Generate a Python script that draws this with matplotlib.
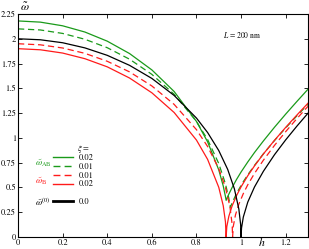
import matplotlib
matplotlib.use("Agg")
import matplotlib.pyplot as plt
from matplotlib.lines import Line2D

plt.rcParams['font.family'] = ['STIXGeneral', 'DejaVu Serif']
plt.rcParams['mathtext.fontset'] = 'stix'

# ---- data ----
h_black = [0, 0.1, 0.2, 0.3, 0.4, 0.5, 0.6, 0.7, 0.8, 0.85, 0.9, 0.94, 0.97, 0.99, 0.998, 1.0,
           1.002, 1.01, 1.03, 1.06, 1.1, 1.15, 1.2, 1.25, 1.3]
w_black = [2.000, 1.990, 1.960, 1.908, 1.833, 1.732, 1.600, 1.428, 1.200, 1.054, 0.872, 0.682,
           0.486, 0.282, 0.126, 0.0, 0.090, 0.201, 0.352, 0.504, 0.663, 0.831, 0.980, 1.118, 1.249]

h_b02 = [0, 0.1, 0.2, 0.3, 0.4, 0.5, 0.6, 0.7, 0.8, 0.85, 0.9, 0.92, 0.93, 0.933,
         0.936, 0.945, 0.96, 0.98, 1.0, 1.03, 1.06, 1.1, 1.15, 1.2, 1.25, 1.3]
w_b02 = [1.900, 1.889, 1.856, 1.799, 1.717, 1.604, 1.455, 1.256, 0.978, 0.783, 0.501, 0.316,
         0.152, 0.0, 0.104, 0.208, 0.315, 0.419, 0.506, 0.618, 0.717, 0.838, 0.976, 1.106,
         1.230, 1.350]

h_b01 = [0, 0.1, 0.2, 0.3, 0.4, 0.5, 0.6, 0.7, 0.8, 0.85, 0.9, 0.93, 0.95, 0.96, 0.962,
         0.965, 0.975, 0.99, 1.01, 1.03, 1.06, 1.1, 1.15, 1.2, 1.25, 1.3]
w_b01 = [1.950, 1.939, 1.907, 1.853, 1.773, 1.666, 1.524, 1.338, 1.083, 0.913, 0.689, 0.499,
         0.307, 0.126, 0.0, 0.107, 0.224, 0.331, 0.438, 0.527, 0.641, 0.775, 0.925, 1.063,
         1.194, 1.319]

h_ab02 = [0, 0.1, 0.2, 0.3, 0.4, 0.5, 0.6, 0.7, 0.8, 0.85, 0.9, 0.92, 0.93, 0.933,
          0.945, 0.96, 0.98, 1.0, 1.03, 1.06, 1.1, 1.15, 1.2, 1.25, 1.3]
w_ab02 = [2.180, 2.168, 2.131, 2.068, 1.976, 1.851, 1.686, 1.468, 1.166, 0.960, 0.677, 0.515,
          0.408, 0.370, 0.432, 0.500, 0.582, 0.656, 0.757, 0.852, 0.969, 1.108, 1.240, 1.367,
          1.491]

h_ab01 = [0, 0.1, 0.2, 0.3, 0.4, 0.5, 0.6, 0.7, 0.8, 0.85, 0.9, 0.93, 0.945, 0.952,
          0.96, 0.975, 0.99, 1.01, 1.03, 1.06, 1.1, 1.15, 1.2, 1.25, 1.3]
w_ab01 = [2.100, 2.089, 2.054, 1.995, 1.910, 1.794, 1.641, 1.440, 1.166, 0.983, 0.741, 0.536,
          0.392, 0.300, 0.345, 0.418, 0.481, 0.558, 0.627, 0.722, 0.839, 0.974, 1.101, 1.222,
          1.340]

xticks = [0, 0.2, 0.4, 0.6, 0.8, 1, 1.2]
xticklabels = ['0', '0.2', '0.4', '0.6', '0.8', '1', '1.2']
yticks = [0, 0.25, 0.5, 0.75, 1, 1.25, 1.5, 1.75, 2, 2.25]
yticklabels = ['0', '0.25', '0.5', '0.75', '1', '1.25', '1.5', '1.75', '2', '2.25']
xi_labels = ['0.02', '0.01', '0.01', '0.02', '0.0']

GREEN = '#1a9a1a'
RED = '#ff1a1a'
dash = (0, (5, 3))

fig = plt.figure(figsize=(3.09, 2.49), dpi=100)
ax = fig.add_axes([18/309, 1-237/249, 290/309, 223/249])

lw = 0.9
ax.plot(h_ab02, w_ab02, color=GREEN, lw=lw)
ax.plot(h_ab01, w_ab01, color=GREEN, lw=lw, ls=dash)
ax.plot(h_b01, w_b01, color=RED, lw=lw, ls=dash)
ax.plot(h_b02, w_b02, color=RED, lw=lw)
ax.plot(h_black, w_black, color='black', lw=lw)

ax.set_xlim(0, 1.3)
ax.set_ylim(0, 2.25)
ax.set_xticks(xticks)
ax.set_xticklabels(xticklabels)
ax.set_yticks(yticks)
ax.set_yticklabels(yticklabels)
ax.tick_params(direction='in', length=3, width=0.6, top=True, right=True,
               labelsize=6, pad=1.5)
for s in ax.spines.values():
    s.set_linewidth(0.8)

# axis labels as text (h near bottom, omega at top-left)
ax.text((262-18)/290, (237-242.5)/223, r'$h$', transform=ax.transAxes,
        fontsize=8.5, ha='center', va='center', clip_on=False)
ax.text((25-18)/290, (237-7.5)/223, r'$\tilde{\omega}$', transform=ax.transAxes,
        fontsize=8.5, ha='center', va='center', clip_on=False)

ax.text((223-18)/290, (237-35)/223, r'$L$ = 200 nm', transform=ax.transAxes,
        fontsize=5.5, ha='left', va='center')

handles = [Line2D([], [], color=GREEN, lw=1.0),
           Line2D([], [], color=GREEN, lw=1.0, ls=dash),
           Line2D([], [], color=RED, lw=1.0, ls=dash),
           Line2D([], [], color=RED, lw=1.0),
           Line2D([], [], color='none'),
           Line2D([], [], color='black', lw=2.0)]
labels = xi_labels[:4] + [''] + xi_labels[4:]
leg = ax.legend(handles, labels, loc='upper left',
                bbox_to_anchor=((53-18)/290, (237-154)/223),
                frameon=False, fontsize=6, handlelength=2.4, handletextpad=0.7,
                labelspacing=0.1, borderpad=0, borderaxespad=0)

ax.text((77-18)/290, (237-149)/223, r'$\xi$ =', transform=ax.transAxes,
        fontsize=6, ha='left', va='center')
ax.text((35-18)/290, (237-163)/223, r'$\tilde{\omega}_{\rm AB}$', transform=ax.transAxes,
        fontsize=6.5, ha='left', va='center', color=GREEN)
ax.text((35-18)/290, (237-181)/223, r'$\tilde{\omega}_{\rm B}$', transform=ax.transAxes,
        fontsize=6.5, ha='left', va='center', color=RED)
ax.text((35-18)/290, (237-202)/223, r'$\tilde{\omega}^{(0)}$', transform=ax.transAxes,
        fontsize=6.5, ha='left', va='center', color='black')

fig.savefig('out.png', dpi=100)
